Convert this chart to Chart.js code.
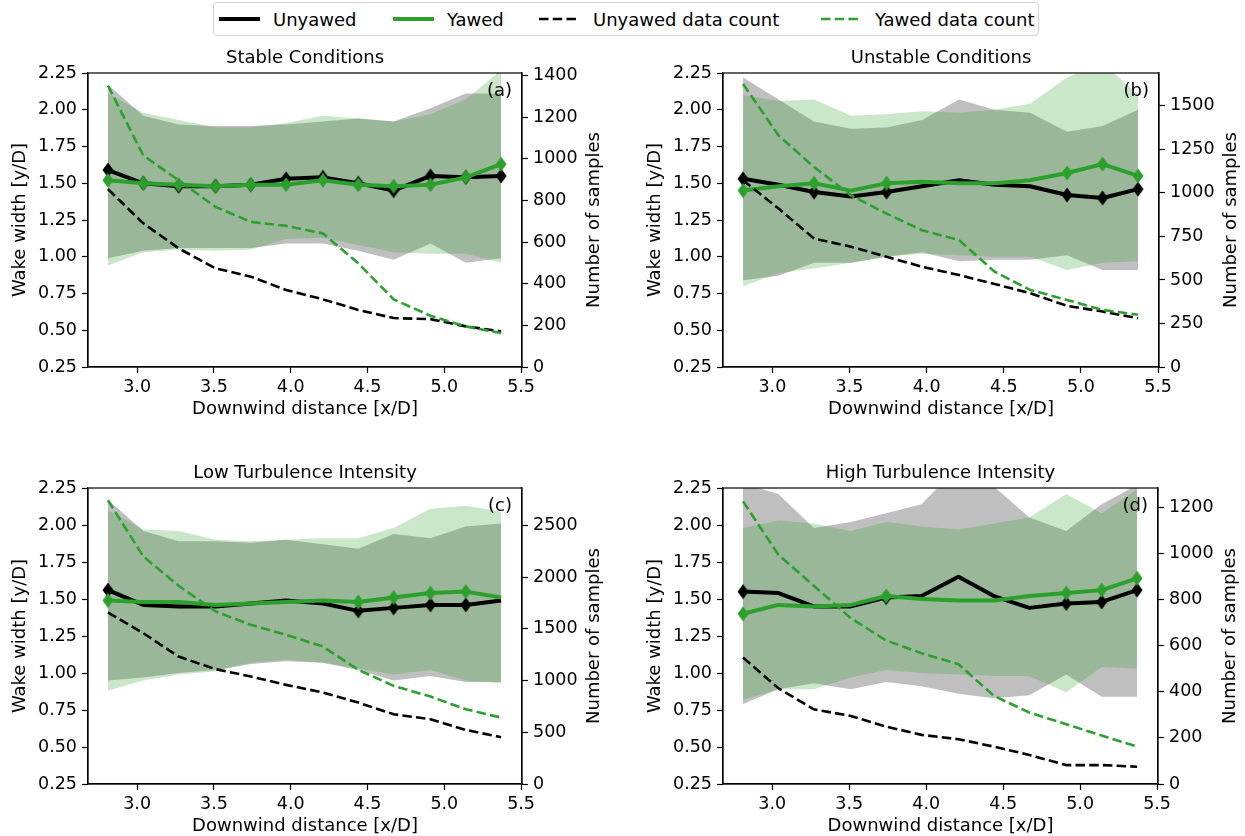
<!DOCTYPE html>
<html>
<head>
<meta charset="utf-8">
<script src="https://cdn.jsdelivr.net/npm/chart.js@4.4.0/dist/chart.umd.min.js"></script>
<style>
  body { margin: 0; background: #fff; overflow: hidden; }
  #wrap { position: relative; width: 1245px; height: 836px; font-family: 'DejaVu Sans', sans-serif; }
  canvas { position: absolute; }
  #legend { position: absolute; left: 213px; top: 2px; width: 826px; height: 34px; border: 1px solid #d4d4d4; border-radius: 4px; box-sizing: border-box; }
  .item { position: absolute; top: 0; height: 32px; display: flex; align-items: center; font-size: 18px; color: #000; white-space: nowrap; }
  .item svg { margin-right: 13px; }
</style>
</head>
<body>
<div id="wrap">
  <div id="legend">
    <div class="item" style="left:5px"><svg width="41" height="10"><line x1="0" y1="5" x2="41" y2="5" stroke="#000" stroke-width="4"/></svg>Unyawed</div>
    <div class="item" style="left:179px"><svg width="41" height="10"><line x1="0" y1="5" x2="41" y2="5" stroke="#2ca02c" stroke-width="4"/></svg>Yawed</div>
    <div class="item" style="left:325px"><svg width="41" height="10"><line x1="0" y1="5" x2="41" y2="5" stroke="#000" stroke-width="2.6" stroke-dasharray="9.5 4.2"/></svg>Unyawed data count</div>
    <div class="item" style="left:607px"><svg width="41" height="10"><line x1="0" y1="5" x2="41" y2="5" stroke="#2ca02c" stroke-width="2.6" stroke-dasharray="9.5 4.2"/></svg>Yawed data count</div>
  </div>
  <canvas id="chartA" width="622" height="390" style="left:0px;top:31px"></canvas>
  <canvas id="chartB" width="623" height="390" style="left:622px;top:31px"></canvas>
  <canvas id="chartC" width="622" height="390" style="left:0px;top:446px"></canvas>
  <canvas id="chartD" width="623" height="390" style="left:622px;top:446px"></canvas>
</div>
<script>
// downwind positions [x/D]
const dist = [2.81, 3.04, 3.27, 3.51, 3.74, 3.97, 4.21, 4.44, 4.67, 4.91, 5.14, 5.37];
const xTicks = [3.0, 3.5, 4.0, 4.5, 5.0, 5.5];
const widthTicks = [0.25, 0.5, 0.75, 1.0, 1.25, 1.5, 1.75, 2.0, 2.25];

// (a) Stable conditions
const aUnyawed   = [1.59, 1.50, 1.48, 1.48, 1.49, 1.53, 1.54, 1.50, 1.45, 1.55, 1.54, 1.55];
const aYawed     = [1.52, 1.50, 1.49, 1.48, 1.49, 1.49, 1.52, 1.49, 1.48, 1.49, 1.54, 1.63];
const aUnyawedHi = [2.17, 1.96, 1.90, 1.89, 1.89, 1.90, 1.92, 1.94, 1.92, 2.01, 2.11, 2.11];
const aUnyawedLo = [0.99, 1.04, 1.06, 1.06, 1.06, 1.09, 1.09, 1.04, 0.98, 1.09, 0.96, 0.99];
const aYawedHi   = [2.11, 1.98, 1.93, 1.88, 1.88, 1.91, 1.96, 1.94, 1.92, 1.97, 2.07, 2.27];
const aYawedLo   = [0.94, 1.03, 1.05, 1.04, 1.05, 1.12, 1.13, 1.08, 1.03, 1.02, 1.02, 0.96];
const aUnyawedN  = [854, 690, 570, 474, 434, 370, 325, 274, 235, 230, 195, 171];
const aYawedN    = [1351, 1016, 897, 769, 697, 678, 641, 498, 325, 246, 195, 163];
const aMarked    = [0, 1, 2, 3, 4, 5, 6, 7, 8, 9, 10, 11];
const aCountTicks = [0, 200, 400, 600, 800, 1000, 1200, 1400];

// (b) Unstable conditions
const bUnyawed   = [1.53, 1.49, 1.44, 1.41, 1.44, 1.48, 1.52, 1.49, 1.48, 1.42, 1.40, 1.46];
const bYawed     = [1.45, 1.48, 1.50, 1.45, 1.50, 1.51, 1.50, 1.50, 1.52, 1.57, 1.63, 1.55];
const bUnyawedHi = [2.22, 2.07, 1.92, 1.87, 1.88, 1.93, 2.07, 2.00, 1.98, 1.85, 1.89, 2.00];
const bUnyawedLo = [0.84, 0.87, 0.96, 0.96, 1.00, 1.03, 0.97, 0.98, 0.98, 1.01, 0.91, 0.91];
const bYawedHi   = [2.10, 2.06, 2.07, 1.96, 1.97, 1.99, 1.98, 2.00, 2.04, 2.22, 2.32, 2.10];
const bYawedLo   = [0.80, 0.89, 0.92, 0.96, 1.00, 1.02, 1.01, 1.00, 1.00, 0.91, 0.96, 0.97];
const bUnyawedN  = [1072, 910, 738, 691, 633, 576, 528, 477, 424, 351, 319, 280];
const bYawedN    = [1626, 1330, 1149, 986, 881, 786, 729, 548, 443, 385, 328, 300];
const bMarked    = [0, 2, 4, 9, 10, 11];
const bCountTicks = [0, 250, 500, 750, 1000, 1250, 1500];

// (c) Low turbulence intensity
const cUnyawed   = [1.56, 1.46, 1.45, 1.45, 1.47, 1.49, 1.47, 1.42, 1.44, 1.46, 1.46, 1.49];
const cYawed     = [1.49, 1.48, 1.48, 1.46, 1.47, 1.48, 1.49, 1.48, 1.51, 1.54, 1.55, 1.51];
const cUnyawedHi = [2.17, 1.96, 1.89, 1.89, 1.88, 1.90, 1.87, 1.84, 1.94, 1.91, 1.99, 2.01];
const cUnyawedLo = [0.95, 0.97, 1.00, 1.02, 1.06, 1.08, 1.07, 1.02, 0.95, 0.98, 0.94, 0.94];
const cYawedHi   = [2.10, 1.97, 1.96, 1.90, 1.89, 1.90, 1.91, 1.91, 1.98, 2.11, 2.13, 2.09];
const cYawedLo   = [0.88, 0.95, 0.99, 1.01, 1.07, 1.09, 1.07, 1.03, 0.99, 1.02, 0.95, 0.93];
const cUnyawedN  = [1658, 1458, 1232, 1110, 1039, 958, 884, 787, 674, 626, 523, 452];
const cYawedN    = [2742, 2200, 1916, 1668, 1539, 1442, 1329, 1103, 949, 845, 723, 642];
const cMarked    = [0, 7, 8, 9, 10];
const cCountTicks = [0, 500, 1000, 1500, 2000, 2500];

// (d) High turbulence intensity
const dUnyawed   = [1.55, 1.54, 1.45, 1.45, 1.51, 1.52, 1.65, 1.52, 1.44, 1.47, 1.48, 1.56];
const dYawed     = [1.40, 1.46, 1.45, 1.46, 1.52, 1.50, 1.49, 1.49, 1.52, 1.54, 1.56, 1.64];
const dUnyawedHi = [2.28, 2.21, 1.98, 2.02, 2.08, 2.14, 2.40, 2.26, 2.05, 1.96, 2.14, 2.27];
const dUnyawedLo = [0.79, 0.89, 0.93, 0.89, 0.94, 0.91, 0.86, 0.83, 0.85, 0.99, 0.84, 0.84];
const dYawedHi   = [1.98, 2.03, 2.01, 1.96, 2.02, 1.99, 1.97, 2.01, 2.05, 2.21, 2.08, 2.24];
const dYawedLo   = [0.82, 0.89, 0.89, 0.97, 1.02, 1.00, 0.99, 0.98, 0.98, 0.87, 1.04, 1.03];
const dUnyawedN  = [548, 415, 324, 295, 249, 213, 194, 162, 126, 82, 82, 75];
const dYawedN    = [1225, 994, 859, 719, 622, 567, 519, 382, 310, 259, 210, 162];
const dMarked    = [0, 4, 9, 10, 11];
const dCountTicks = [0, 200, 400, 600, 800, 1000, 1200];

const BLACK = '#000000';
const GREEN = '#2ca02c';

Chart.defaults.font.family = "'DejaVu Sans', sans-serif";
Chart.defaults.font.size = 17.5;
Chart.defaults.color = '#000';

// thin diamond marker ('d' in matplotlib)
function diamond(color) {
    const c = document.createElement('canvas');
    c.width = 12;
    c.height = 16;
    const g = c.getContext('2d');
    g.fillStyle = color;
    g.beginPath();
    g.moveTo(6, 0.5);
    g.lineTo(11.5, 8);
    g.lineTo(6, 15.5);
    g.lineTo(0.5, 8);
    g.closePath();
    g.fill();
    return c;
}
const blackDiamond = diamond(BLACK);
const greenDiamond = diamond(GREEN);

function pts(ys) {
    return dist.map((x, i) => ({ x: x, y: ys[i] }));
}

// titles, axis labels, panel tag and frame
const panelText = {
    id: 'panelText',
    afterDraw(chart, args, opts) {
        const ctx = chart.ctx;
        const a = chart.chartArea;
        const midX = (a.left + a.right) / 2;
        const midY = (a.top + a.bottom) / 2;
        ctx.save();
        ctx.strokeStyle = '#000';
        ctx.lineWidth = 1.2;
        ctx.strokeRect(a.left, a.top, a.right - a.left, a.bottom - a.top);

        ctx.fillStyle = '#000';
        ctx.font = "18px 'DejaVu Sans'";
        ctx.textBaseline = 'middle';
        ctx.textAlign = 'center';
        ctx.fillText(opts.title, midX, a.top - 15);
        ctx.fillText('Downwind distance [x/D]', midX, a.bottom + 42);
        ctx.textAlign = 'right';
        ctx.fillText(opts.tag, a.right - 10, a.top + 18);

        ctx.textAlign = 'center';
        ctx.save();
        ctx.translate(a.left - 68, midY);
        ctx.rotate(-Math.PI / 2);
        ctx.fillText('Wake width [y/D]', 0, 0);
        ctx.restore();
        ctx.save();
        ctx.translate(a.right + 72, midY);
        ctx.rotate(-Math.PI / 2);
        ctx.fillText('Number of samples', 0, 0);
        ctx.restore();
        ctx.restore();
    }
};

function drawPanel(canvasId, p) {
    const radius = marked => dist.map((_, i) => marked.includes(i) ? 6 : 0);
    const tickAxis = {
        drawOnChartArea: false,
        drawTicks: true,
        tickLength: 6,
        tickColor: '#000',
        tickWidth: 1.2
    };
    const ctx = document.getElementById(canvasId).getContext('2d');
    return new Chart(ctx, {
        type: 'line',
        data: {
            datasets: [
                { label: 'Yawed data count', data: pts(p.yawedN), yAxisID: 'y2', borderColor: GREEN, borderWidth: 2.6, borderDash: [9.5, 4.2], pointRadius: 0, fill: false },
                { label: 'Unyawed data count', data: pts(p.unyawedN), yAxisID: 'y2', borderColor: BLACK, borderWidth: 2.6, borderDash: [9.5, 4.2], pointRadius: 0, fill: false },
                { label: 'Yawed', data: pts(p.yawed), yAxisID: 'y', borderColor: GREEN, backgroundColor: GREEN, borderWidth: 4, borderJoinStyle: 'round', pointStyle: greenDiamond, pointRadius: radius(p.marked), fill: false },
                { label: 'Unyawed', data: pts(p.unyawed), yAxisID: 'y', borderColor: BLACK, backgroundColor: BLACK, borderWidth: 4, borderJoinStyle: 'round', pointStyle: blackDiamond, pointRadius: radius(p.marked), fill: false },
                { label: 'yawed hi', data: pts(p.yawedHi), yAxisID: 'y', borderWidth: 0, pointRadius: 0, backgroundColor: 'rgba(44,160,44,0.25)', fill: 5 },
                { label: 'yawed lo', data: pts(p.yawedLo), yAxisID: 'y', borderWidth: 0, pointRadius: 0, fill: false },
                { label: 'unyawed hi', data: pts(p.unyawedHi), yAxisID: 'y', borderWidth: 0, pointRadius: 0, backgroundColor: 'rgba(128,128,128,0.5)', fill: 7 },
                { label: 'unyawed lo', data: pts(p.unyawedLo), yAxisID: 'y', borderWidth: 0, pointRadius: 0, fill: false }
            ]
        },
        options: {
            animation: false,
            responsive: false,
            events: [],
            layout: { autoPadding: false, padding: { top: 42, left: 0, right: 0, bottom: 0 } },
            plugins: {
                legend: { display: false },
                tooltip: { enabled: false },
                panelText: { title: p.title, tag: p.tag }
            },
            scales: {
                x: {
                    type: 'linear',
                    min: 2.68,
                    max: 5.506,
                    afterBuildTicks: s => { s.ticks = xTicks.map(v => ({ value: v })); },
                    afterFit: s => { s.height = p.xHeight; },
                    ticks: { callback: v => v.toFixed(1), padding: 4, maxRotation: 0, autoSkip: false },
                    grid: tickAxis,
                    border: { color: '#000', width: 1.2 }
                },
                y: {
                    position: 'left',
                    min: 0.25,
                    max: 2.25,
                    afterBuildTicks: s => { s.ticks = widthTicks.map(v => ({ value: v })); },
                    afterFit: s => { s.width = p.leftWidth; },
                    ticks: { callback: v => v.toFixed(2), padding: 5, autoSkip: false },
                    grid: tickAxis,
                    border: { color: '#000', width: 1.2 }
                },
                y2: {
                    position: 'right',
                    min: 0,
                    max: p.countMax,
                    afterBuildTicks: s => { s.ticks = p.countTicks.map(v => ({ value: v })); },
                    afterFit: s => { s.width = p.rightWidth; },
                    ticks: { callback: v => String(v), padding: 5, autoSkip: false },
                    grid: tickAxis,
                    border: { color: '#000', width: 1.2 }
                }
            }
        },
        plugins: [panelText]
    });
}

drawPanel('chartA', {
    title: 'Stable Conditions', tag: '(a)',
    unyawed: aUnyawed, yawed: aYawed,
    unyawedHi: aUnyawedHi, unyawedLo: aUnyawedLo, yawedHi: aYawedHi, yawedLo: aYawedLo,
    unyawedN: aUnyawedN, yawedN: aYawedN, marked: aMarked,
    countMax: 1412, countTicks: aCountTicks,
    leftWidth: 88, rightWidth: 100, xHeight: 54
});

drawPanel('chartB', {
    title: 'Unstable Conditions', tag: '(b)',
    unyawed: bUnyawed, yawed: bYawed,
    unyawedHi: bUnyawedHi, unyawedLo: bUnyawedLo, yawedHi: bYawedHi, yawedLo: bYawedLo,
    unyawedN: bUnyawedN, yawedN: bYawedN, marked: bMarked,
    countMax: 1689, countTicks: bCountTicks,
    leftWidth: 101, rightWidth: 86, xHeight: 54
});

drawPanel('chartC', {
    title: 'Low Turbulence Intensity', tag: '(c)',
    unyawed: cUnyawed, yawed: cYawed,
    unyawedHi: cUnyawedHi, unyawedLo: cUnyawedLo, yawedHi: cYawedHi, yawedLo: cYawedLo,
    unyawedN: cUnyawedN, yawedN: cYawedN, marked: cMarked,
    countMax: 2861, countTicks: cCountTicks,
    leftWidth: 88, rightWidth: 100, xHeight: 52
});

drawPanel('chartD', {
    title: 'High Turbulence Intensity', tag: '(d)',
    unyawed: dUnyawed, yawed: dYawed,
    unyawedHi: dUnyawedHi, unyawedLo: dUnyawedLo, yawedHi: dYawedHi, yawedLo: dYawedLo,
    unyawedN: dUnyawedN, yawedN: dYawedN, marked: dMarked,
    countMax: 1283, countTicks: dCountTicks,
    leftWidth: 101, rightWidth: 87, xHeight: 52
});
</script>
</body>
</html>
